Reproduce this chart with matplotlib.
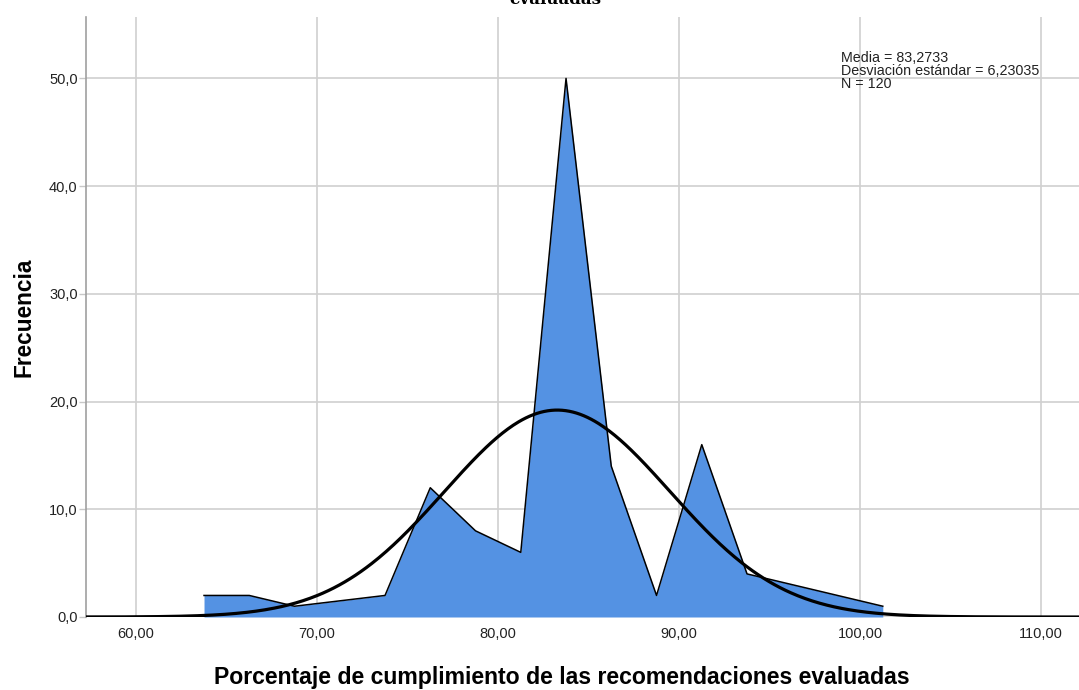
import numpy as np
import matplotlib.pyplot as plt

# puntos medios de los intervalos (ancho 2,5) y frecuencias
midpoints = [63.76, 66.26, 68.76, 73.76, 76.26, 78.76, 81.26, 83.76,
             86.26, 88.76, 91.26, 93.76, 101.26]
counts = [2, 2, 1, 2, 12, 8, 6, 50, 14, 2, 16, 4, 1]
media = 83.2733
desv = 6.23035
n = 120
bin_width = 2.5

x_ticks = [60, 70, 80, 90, 100, 110]
y_ticks = [0, 10, 20, 30, 40, 50]

plt.rcParams['font.family'] = ['Liberation Sans', 'DejaVu Sans']

fig = plt.figure(figsize=[10.79, 6.90], dpi=100)
ax = fig.add_axes([86 / 1079, 73 / 690, 1 - 86 / 1079, 600 / 690])

ax.fill_between(midpoints, counts, 0, color='#5492E3', lw=0, zorder=2)
ax.plot(midpoints, counts, color='black', lw=1.1, zorder=3)

# curva normal escalada a N * ancho de intervalo
xs = np.linspace(55, 115, 600)
ys = n * bin_width * np.exp(-0.5 * ((xs - media) / desv) ** 2) / (desv * np.sqrt(2 * np.pi))
ax.plot(xs, ys, color='black', lw=2.3, zorder=4, solid_capstyle='butt')

ax.set_xlim(57.24, 112.1)
ax.set_ylim(0, 55.7)
ax.set_xticks(x_ticks)
ax.set_xticklabels([f'{v:.2f}'.replace('.', ',') for v in x_ticks])
ax.set_yticks(y_ticks)
ax.set_yticklabels([f'{v:.1f}'.replace('.', ',') for v in y_ticks])
ax.tick_params(axis='x', length=0, pad=7, labelsize=10.5, colors='#222222')
ax.tick_params(axis='y', length=5, width=1, color='#c8c8c8', pad=1,
               labelsize=10.5, labelcolor='#222222')
ax.grid(True, color='#d0d0d0', lw=1.2, zorder=0)
ax.set_axisbelow(True)
for side in ['top', 'right', 'bottom']:
    ax.spines[side].set_visible(False)
ax.spines['left'].set_color('#a0a0a0')
ax.spines['left'].set_linewidth(1.2)

ax.set_xlabel('Porcentaje de cumplimiento de las recomendaciones evaluadas',
              fontsize=16.6, fontweight='bold')
ax.xaxis.set_label_coords(0.479, -0.081)
ax.set_ylabel('Frecuencia', fontsize=16.3, fontweight='bold', labelpad=10)

ax.text(0.76, 0.943,
        f'Media = {media:.4f}\nDesviación estándar = {desv:.5f}\nN = {n}'.replace('.', ','),
        transform=ax.transAxes, fontsize=10.3, va='top', ha='left',
        linespacing=0.88, color='#222222')

fig.text(0.515, 1 - 4 / 690, 'evaluadas', family='DejaVu Serif', fontsize=12,
         fontweight='bold', ha='center', va='baseline')

fig.savefig('out.png', dpi=100)
